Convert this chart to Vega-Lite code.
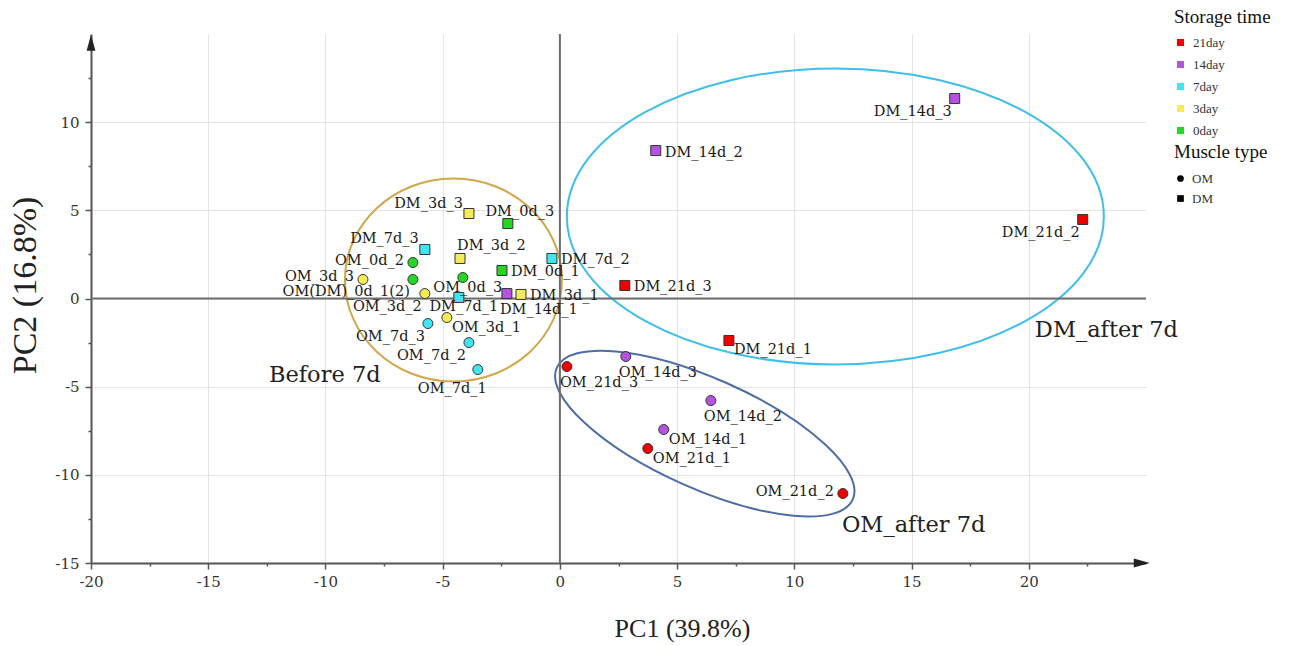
{
  "$schema": "https://vega.github.io/schema/vega-lite/v6.json",
  "width": 1055,
  "height": 529,
  "autosize": "none",
  "padding": {"left": 91, "top": 34, "right": 155, "bottom": 83},
  "background": "white",
  "config": {"view": {"stroke": null}, "font": "DejaVu Serif"},
  "data": {
    "values": [
      {"label": "DM_0d_1", "muscle": "DM", "storage": "0day", "PC1": -2.47, "PC2": 1.59, "anchor": "r"},
      {"label": "DM_0d_3", "muscle": "DM", "storage": "0day", "PC1": -2.22, "PC2": 4.25, "anchor": "tc"},
      {"label": "DM_3d_1", "muscle": "DM", "storage": "3day", "PC1": -1.66, "PC2": 0.23, "anchor": "r"},
      {"label": "DM_3d_2", "muscle": "DM", "storage": "3day", "PC1": -4.26, "PC2": 2.27, "anchor": "tr"},
      {"label": "DM_3d_3", "muscle": "DM", "storage": "3day", "PC1": -3.88, "PC2": 4.82, "anchor": "tl"},
      {"label": "DM_7d_1", "muscle": "DM", "storage": "7day", "PC1": -4.31, "PC2": 0.06, "anchor": "c"},
      {"label": "DM_7d_2", "muscle": "DM", "storage": "7day", "PC1": -0.34, "PC2": 2.27, "anchor": "r"},
      {"label": "DM_7d_3", "muscle": "DM", "storage": "7day", "PC1": -5.76, "PC2": 2.78, "anchor": "tl"},
      {"label": "DM_14d_1", "muscle": "DM", "storage": "14day", "PC1": -2.26, "PC2": 0.28, "anchor": "b"},
      {"label": "DM_14d_2", "muscle": "DM", "storage": "14day", "PC1": 4.09, "PC2": 8.39, "anchor": "r"},
      {"label": "DM_14d_3", "muscle": "DM", "storage": "14day", "PC1": 16.84, "PC2": 11.34, "anchor": "lb"},
      {"label": "DM_21d_1", "muscle": "DM", "storage": "21day", "PC1": 7.21, "PC2": -2.38, "anchor": "rb"},
      {"label": "DM_21d_2", "muscle": "DM", "storage": "21day", "PC1": 22.3, "PC2": 4.48, "anchor": "lb"},
      {"label": "DM_21d_3", "muscle": "DM", "storage": "21day", "PC1": 2.77, "PC2": 0.74, "anchor": "r"},
      {"label": "OM_0d_2", "muscle": "OM", "storage": "0day", "PC1": -6.27, "PC2": 2.04, "anchor": "l"},
      {"label": "OM(DM)_0d_1(2)", "muscle": "OM", "storage": "0day", "PC1": -6.27, "PC2": 1.08, "anchor": "lb"},
      {"label": "OM_0d_3", "muscle": "OM", "storage": "0day", "PC1": -4.14, "PC2": 1.19, "anchor": "c"},
      {"label": "OM_3d_1", "muscle": "OM", "storage": "3day", "PC1": -4.82, "PC2": -1.08, "anchor": "rb"},
      {"label": "OM_3d_2", "muscle": "OM", "storage": "3day", "PC1": -5.76, "PC2": 0.28, "anchor": "lb"},
      {"label": "OM_3d_3", "muscle": "OM", "storage": "3day", "PC1": -8.4, "PC2": 1.08, "anchor": "l"},
      {"label": "OM_7d_1", "muscle": "OM", "storage": "7day", "PC1": -3.5, "PC2": -4.03, "anchor": "lbb"},
      {"label": "OM_7d_2", "muscle": "OM", "storage": "7day", "PC1": -3.88, "PC2": -2.5, "anchor": "lb"},
      {"label": "OM_7d_3", "muscle": "OM", "storage": "7day", "PC1": -5.63, "PC2": -1.42, "anchor": "lb"},
      {"label": "OM_14d_1", "muscle": "OM", "storage": "14day", "PC1": 4.43, "PC2": -7.43, "anchor": "rb"},
      {"label": "OM_14d_2", "muscle": "OM", "storage": "14day", "PC1": 6.44, "PC2": -5.79, "anchor": "b"},
      {"label": "OM_14d_3", "muscle": "OM", "storage": "14day", "PC1": 2.81, "PC2": -3.29, "anchor": "b"},
      {"label": "OM_21d_1", "muscle": "OM", "storage": "21day", "PC1": 3.75, "PC2": -8.51, "anchor": "rb"},
      {"label": "OM_21d_2", "muscle": "OM", "storage": "21day", "PC1": 12.07, "PC2": -11.06, "anchor": "l"},
      {"label": "OM_21d_3", "muscle": "OM", "storage": "21day", "PC1": 0.3, "PC2": -3.86, "anchor": "b"}
    ]
  },
  "layer": [
    {
      "data": {"values": [{}]},
      "mark": {"type": "point", "shape": "M1,0C1,0.516 0.552,0.935 0,0.935C-0.552,0.935 -1,0.516 -1,0C-1,-0.516 -0.552,-0.935 0,-0.935C0.552,-0.935 1,-0.516 1,0Z", "size": 47089, "filled": false, "stroke": "#D2A64B", "strokeWidth": 2, "opacity": 1},
      "encoding": {"x": {"datum": -4.54}, "y": {"datum": 1.05}}
    },
    {
      "data": {"values": [{}]},
      "mark": {"type": "point", "shape": "M1,0C1,0.304 0.552,0.551 0,0.551C-0.552,0.551 -1,0.304 -1,0C-1,-0.304 -0.552,-0.551 0,-0.551C0.552,-0.551 1,-0.304 1,0Z", "size": 288369, "filled": false, "stroke": "#3DBEEB", "strokeWidth": 2, "opacity": 1},
      "encoding": {"x": {"datum": 11.75}, "y": {"datum": 4.65}}
    },
    {
      "data": {"values": [{}]},
      "mark": {"type": "point", "shape": "M1,0C1,0.188 0.552,0.34 0,0.34C-0.552,0.34 -1,0.188 -1,0C-1,-0.188 -0.552,-0.34 0,-0.34C0.552,-0.34 1,-0.188 1,0Z", "size": 104976, "angle": 24, "filled": false, "stroke": "#4E6CA6", "strokeWidth": 2, "opacity": 1},
      "encoding": {"x": {"datum": 6.18}, "y": {"datum": -7.66}}
    },
    {
      "data": {"values": [{}]},
      "mark": {"type": "rule", "color": "#6e6e6e", "strokeWidth": 2},
      "encoding": {"x": {"datum": 0}}
    },
    {
      "data": {"values": [{}]},
      "mark": {"type": "rule", "color": "#6e6e6e", "strokeWidth": 2},
      "encoding": {"y": {"datum": 0}}
    },
    {
      "mark": {"type": "point", "filled": true, "size": 100, "stroke": "#333333", "strokeWidth": 1, "opacity": 1},
      "encoding": {
        "x": {
          "field": "PC1", "type": "quantitative",
          "scale": {"domain": [-20, 25], "nice": false, "zero": false},
          "axis": {
            "title": "PC1 (39.8%)",
            "values": [-20, -17.5, -15, -12.5, -10, -7.5, -5, -2.5, 0, 2.5, 5, 7.5, 10, 12.5, 15, 17.5, 20, 22.5],
            "labelExpr": "datum.value % 5 === 0 ? '' + datum.value : ''",
            "labelFlush": false, "labelOverlap": false,
            "grid": true,
            "gridColor": {"condition": {"test": "datum.value % 5 !== 0 || datum.value === -20", "value": "transparent"}, "value": "#e4e4e4"},
            "tickSize": {"condition": {"test": "datum.value % 5 !== 0", "value": 3}, "value": 6},
            "domainColor": "#555555", "domainWidth": 2, "tickColor": "#555555", "tickWidth": 1.5,
            "labelFont": "DejaVu Serif", "labelFontSize": 15, "labelColor": "#333333", "labelPadding": 5,
            "titleFont": "Liberation Serif", "titleFontSize": 26, "titleFontWeight": "normal", "titleColor": "#222222",
            "titleX": 591, "titleY": 65, "titleAlign": "center", "titleBaseline": "middle"
          }
        },
        "y": {
          "field": "PC2", "type": "quantitative",
          "scale": {"domain": [-15, 15], "nice": false, "zero": false},
          "axis": {
            "title": "PC2 (16.8%)",
            "values": [-15, -12.5, -10, -7.5, -5, -2.5, 0, 2.5, 5, 7.5, 10, 12.5],
            "labelExpr": "datum.value % 5 === 0 ? '' + datum.value : ''",
            "labelFlush": false, "labelOverlap": false,
            "grid": true,
            "gridColor": {"condition": {"test": "datum.value % 5 !== 0 || datum.value === -15", "value": "transparent"}, "value": "#e4e4e4"},
            "tickSize": {"condition": {"test": "datum.value % 5 !== 0", "value": 3}, "value": 6},
            "domainColor": "#555555", "domainWidth": 2, "tickColor": "#555555", "tickWidth": 1.5,
            "labelFont": "DejaVu Serif", "labelFontSize": 15, "labelColor": "#333333", "labelPadding": 6,
            "titleFont": "Liberation Serif", "titleFontSize": 34, "titleFontWeight": "normal", "titleColor": "#222222",
            "titleX": -66, "titleY": 251, "titleAngle": -90, "titleAlign": "center", "titleBaseline": "middle"
          }
        },
        "color": {
          "field": "storage", "type": "nominal",
          "scale": {"domain": ["21day", "14day", "7day", "3day", "0day"], "range": ["#F00000", "#B552E0", "#3FE6F2", "#F5EC55", "#22D822"]},
          "legend": {
            "title": "Storage time", "orient": "none", "legendX": 1083, "legendY": -26,
            "symbolType": "square", "symbolSize": 50, "symbolStrokeWidth": 0,
            "labelFont": "Liberation Serif", "labelFontSize": 13, "labelColor": "#333333", "labelOffset": 6,
            "titleFont": "Liberation Serif", "titleFontSize": 19, "titleFontWeight": "normal", "titleColor": "#111111",
            "rowPadding": 8, "titlePadding": 9, "padding": 0
          }
        },
        "shape": {
          "field": "muscle", "type": "nominal",
          "scale": {"domain": ["OM", "DM"], "range": ["circle", "square"]},
          "legend": {
            "title": "Muscle type", "orient": "none", "legendX": 1083, "legendY": 109,
            "symbolSize": 45, "symbolFillColor": "#000000", "symbolStrokeColor": "#000000", "symbolStrokeWidth": 0,
            "labelFont": "Liberation Serif", "labelFontSize": 13, "labelColor": "#333333", "labelOffset": 5,
            "titleFont": "Liberation Serif", "titleFontSize": 19, "titleFontWeight": "normal", "titleColor": "#111111",
            "rowPadding": 6, "titlePadding": 10, "padding": 0
          }
        }
      }
    },
    {
      "transform": [{"filter": "datum.anchor === 'r'"}],
      "mark": {"type": "text", "align": "left", "baseline": "middle", "dx": 9, "dy": 2, "font": "DejaVu Serif", "fontSize": 14.5, "color": "#1a1a1a"},
      "encoding": {"x": {"field": "PC1", "type": "quantitative"}, "y": {"field": "PC2", "type": "quantitative"}, "text": {"field": "label"}}
    },
    {
      "transform": [{"filter": "datum.anchor === 'rb'"}],
      "mark": {"type": "text", "align": "left", "baseline": "middle", "dx": 5, "dy": 10, "font": "DejaVu Serif", "fontSize": 14.5, "color": "#1a1a1a"},
      "encoding": {"x": {"field": "PC1", "type": "quantitative"}, "y": {"field": "PC2", "type": "quantitative"}, "text": {"field": "label"}}
    },
    {
      "transform": [{"filter": "datum.anchor === 'b'"}],
      "mark": {"type": "text", "align": "left", "baseline": "middle", "dx": -7, "dy": 16, "font": "DejaVu Serif", "fontSize": 14.5, "color": "#1a1a1a"},
      "encoding": {"x": {"field": "PC1", "type": "quantitative"}, "y": {"field": "PC2", "type": "quantitative"}, "text": {"field": "label"}}
    },
    {
      "transform": [{"filter": "datum.anchor === 'c'"}],
      "mark": {"type": "text", "align": "center", "baseline": "middle", "dx": 5, "dy": 10, "font": "DejaVu Serif", "fontSize": 14.5, "color": "#1a1a1a"},
      "encoding": {"x": {"field": "PC1", "type": "quantitative"}, "y": {"field": "PC2", "type": "quantitative"}, "text": {"field": "label"}}
    },
    {
      "transform": [{"filter": "datum.anchor === 'tc'"}],
      "mark": {"type": "text", "align": "center", "baseline": "middle", "dx": 12, "dy": -12, "font": "DejaVu Serif", "fontSize": 14.5, "color": "#1a1a1a"},
      "encoding": {"x": {"field": "PC1", "type": "quantitative"}, "y": {"field": "PC2", "type": "quantitative"}, "text": {"field": "label"}}
    },
    {
      "transform": [{"filter": "datum.anchor === 'tr'"}],
      "mark": {"type": "text", "align": "left", "baseline": "middle", "dx": -3, "dy": -12, "font": "DejaVu Serif", "fontSize": 14.5, "color": "#1a1a1a"},
      "encoding": {"x": {"field": "PC1", "type": "quantitative"}, "y": {"field": "PC2", "type": "quantitative"}, "text": {"field": "label"}}
    },
    {
      "transform": [{"filter": "datum.anchor === 'tl'"}],
      "mark": {"type": "text", "align": "right", "baseline": "middle", "dx": -6, "dy": -10, "font": "DejaVu Serif", "fontSize": 14.5, "color": "#1a1a1a"},
      "encoding": {"x": {"field": "PC1", "type": "quantitative"}, "y": {"field": "PC2", "type": "quantitative"}, "text": {"field": "label"}}
    },
    {
      "transform": [{"filter": "datum.anchor === 'l'"}],
      "mark": {"type": "text", "align": "right", "baseline": "middle", "dx": -9, "dy": -2, "font": "DejaVu Serif", "fontSize": 14.5, "color": "#1a1a1a"},
      "encoding": {"x": {"field": "PC1", "type": "quantitative"}, "y": {"field": "PC2", "type": "quantitative"}, "text": {"field": "label"}}
    },
    {
      "transform": [{"filter": "datum.anchor === 'lb'"}],
      "mark": {"type": "text", "align": "right", "baseline": "middle", "dx": -3, "dy": 13, "font": "DejaVu Serif", "fontSize": 14.5, "color": "#1a1a1a"},
      "encoding": {"x": {"field": "PC1", "type": "quantitative"}, "y": {"field": "PC2", "type": "quantitative"}, "text": {"field": "label"}}
    },
    {
      "transform": [{"filter": "datum.anchor === 'lbb'"}],
      "mark": {"type": "text", "align": "right", "baseline": "middle", "dx": 9, "dy": 19, "font": "DejaVu Serif", "fontSize": 14.5, "color": "#1a1a1a"},
      "encoding": {"x": {"field": "PC1", "type": "quantitative"}, "y": {"field": "PC2", "type": "quantitative"}, "text": {"field": "label"}}
    },
    {
      "data": {"values": [
        {"note": "Before 7d", "PC1": -12.41, "PC2": -4.71},
        {"note": "DM_after 7d", "PC1": 20.26, "PC2": -2.21},
        {"note": "OM_after 7d", "PC1": 12.03, "PC2": -13.22}
      ]},
      "mark": {"type": "text", "align": "left", "baseline": "alphabetic", "font": "DejaVu Serif", "fontSize": 22.5, "color": "#222222"},
      "encoding": {"x": {"field": "PC1", "type": "quantitative"}, "y": {"field": "PC2", "type": "quantitative"}, "text": {"field": "note"}}
    },
    {
      "data": {"values": [{}]},
      "mark": {"type": "point", "shape": "M0,-1L0.55,1L-0.55,1Z", "size": 256, "filled": true, "color": "#222222", "opacity": 1},
      "encoding": {"x": {"datum": -20}, "y": {"datum": 14.5}}
    },
    {
      "data": {"values": [{}]},
      "mark": {"type": "point", "shape": "M0,-1L0.55,1L-0.55,1Z", "size": 256, "angle": 90, "filled": true, "color": "#222222", "opacity": 1},
      "encoding": {"x": {"datum": 24.82}, "y": {"datum": -15}}
    }
  ]
}
